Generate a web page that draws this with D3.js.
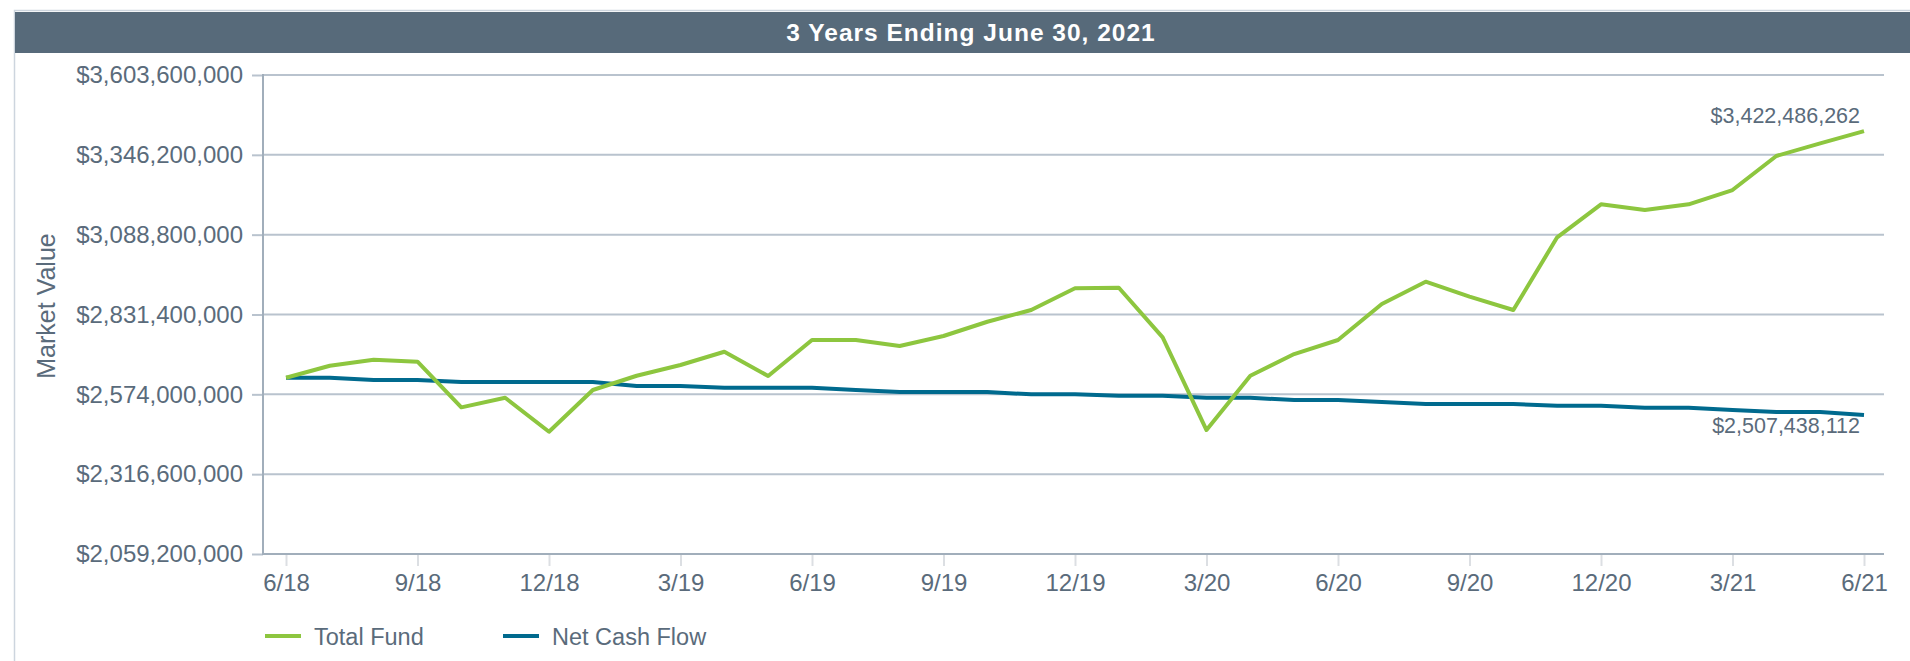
<!DOCTYPE html>
<html>
<head>
<meta charset="utf-8">
<script src="https://cdn.jsdelivr.net/npm/d3@7"></script>
<style>
  body { margin: 0; background: #fff; }
  svg text { font-family: "Liberation Sans", Arial, sans-serif; }
</style>
</head>
<body>
<div class="chart"></div>
<script>
// monthly points, 6/18 .. 6/21
const months = ["6/18","7/18","8/18","9/18","10/18","11/18","12/18","1/19","2/19","3/19","4/19","5/19",
    "6/19","7/19","8/19","9/19","10/19","11/19","12/19","1/20","2/20","3/20","4/20","5/20",
    "6/20","7/20","8/20","9/20","10/20","11/20","12/20","1/21","2/21","3/21","4/21","5/21","6/21"];

// values in $ millions
const totalFund = [2627.5, 2666.2, 2685.6, 2679.1, 2532.1, 2563.0, 2453.4, 2587.9, 2634.0, 2668.5, 2711.4, 2633.0,
    2749.1, 2749.1, 2729.7, 2762.0, 2808.1, 2845.8, 2915.8, 2917.7, 2757.8, 2458.9, 2634.0, 2703.9,
    2749.1, 2865.2, 2937.1, 2889.3, 2845.8, 3080.2, 3186.6, 3168.3, 3186.6, 3232.7, 3342.4, 3383.3, 3422.486262];

const netCashFlow = [2627.5, 2627.5, 2620.1, 2620.1, 2613.7, 2613.7, 2613.7, 2613.7, 2600.8, 2600.8, 2595.3, 2595.3,
    2595.3, 2587.9, 2581.4, 2581.4, 2581.4, 2574.0, 2574.0, 2569.5, 2569.5, 2563.0, 2563.0, 2555.6,
    2555.6, 2549.2, 2542.7, 2542.7, 2542.7, 2537.2, 2537.2, 2530.8, 2530.8, 2523.4, 2516.9, 2516.9, 2507.438112];

const xTickLabels = ["6/18","9/18","12/18","3/19","6/19","9/19","12/19","3/20","6/20","9/20","12/20","3/21","6/21"];
const yTicks = [2059.2, 2316.6, 2574.0, 2831.4, 3088.8, 3346.2, 3603.6];

const seriesNames = ["Total Fund", "Net Cash Flow"];
const seriesColors = ["#8dc63f", "#006a8e"];

const d3 = window.d3;
const W = 1910, H = 661;
const textColor = "#5a6b7b";
const gridColor = "#b9c3ce";
const axisColor = "#a1aebb";

let svg = d3.select(".chart").append("svg")
    .attr("width", W)
    .attr("height", H);

// outer frame + header
svg.append("path")
    .attr("d", "M14.5," + H + "V10.5H" + W)
    .attr("fill", "none")
    .attr("stroke", "#cdd5de")
    .attr("stroke-width", 1.5);

svg.append("rect")
    .attr("x", 15).attr("y", 12)
    .attr("width", W - 15).attr("height", 41)
    .attr("fill", "#576a7a");

svg.append("text")
    .attr("x", 971).attr("y", 40.5)
    .attr("text-anchor", "middle")
    .attr("fill", "#fff")
    .attr("font-weight", "bold")
    .attr("font-size", 24.5)
    .attr("letter-spacing", 1)
    .text("3 Years Ending June 30, 2021");

let plot = {left: 263, right: 1884, top: 75, bottom: 554};

let x = d3.scalePoint()
    .domain(months)
    .range([286, 1864]);

let y = d3.scaleLinear()
    .domain([yTicks[0], yTicks[yTicks.length - 1]])
    .range([plot.bottom, plot.top]);

// gridlines
svg.append("g")
    .selectAll("line")
    .data(yTicks.slice(1))
    .enter().append("line")
    .attr("x1", plot.left).attr("x2", plot.right)
    .attr("y1", d => y(d)).attr("y2", d => y(d))
    .attr("stroke", gridColor)
    .attr("stroke-width", 2);

// y axis
let yAxis = d3.axisLeft(y)
    .tickValues(yTicks)
    .tickSize(11)
    .tickPadding(9)
    .tickFormat(d => "$" + d3.format(",")(Math.round(d * 1e6)));

svg.append("g")
    .attr("transform", "translate(" + plot.left + ",0)")
    .call(yAxis)
    .call(g => g.select(".domain").remove())
    .call(g => g.selectAll(".tick line").attr("stroke", gridColor).attr("stroke-width", 2))
    .call(g => g.selectAll(".tick text")
        .attr("fill", textColor)
        .attr("font-size", 24)
        .attr("font-family", "Liberation Sans, Arial, sans-serif"));

// x axis
let xAxis = d3.axisBottom(x)
    .tickValues(xTickLabels)
    .tickSize(12)
    .tickPadding(8);

svg.append("g")
    .attr("transform", "translate(0," + plot.bottom + ")")
    .call(xAxis)
    .call(g => g.select(".domain").remove())
    .call(g => g.selectAll(".tick line").attr("stroke", "#dcdfe3").attr("stroke-width", 2))
    .call(g => g.selectAll(".tick text")
        .attr("fill", textColor)
        .attr("font-size", 24)
        .attr("font-family", "Liberation Sans, Arial, sans-serif"));

// frame lines
svg.append("line")
    .attr("x1", plot.left).attr("x2", plot.left)
    .attr("y1", plot.top - 1).attr("y2", plot.bottom + 1)
    .attr("stroke", axisColor).attr("stroke-width", 2);
svg.append("line")
    .attr("x1", plot.left).attr("x2", plot.right)
    .attr("y1", plot.bottom).attr("y2", plot.bottom)
    .attr("stroke", axisColor).attr("stroke-width", 2);

// axis title
svg.append("text")
    .attr("transform", "translate(46,306) rotate(-90)")
    .attr("text-anchor", "middle")
    .attr("dominant-baseline", "central")
    .attr("fill", textColor)
    .attr("font-size", 25)
    .text("Market Value");

// lines
let line = d3.line()
    .x((d, i) => x(months[i]))
    .y(d => y(d));

[netCashFlow, totalFund].forEach((data, k) => {
    let idx = k === 0 ? 1 : 0;
    svg.append("path")
        .datum(data)
        .attr("fill", "none")
        .attr("stroke", seriesColors[idx])
        .attr("stroke-width", 4)
        .attr("stroke-linejoin", "round")
        .attr("d", line);
});

// end labels
let last = months.length - 1;
svg.append("text")
    .attr("x", x(months[last]) - 4)
    .attr("y", y(totalFund[last]) - 8)
    .attr("text-anchor", "end")
    .attr("fill", textColor)
    .attr("font-size", 21.5)
    .text("$" + d3.format(",")(Math.round(totalFund[last] * 1e6)));

svg.append("text")
    .attr("x", x(months[last]) - 4)
    .attr("y", y(netCashFlow[last]) + 18)
    .attr("text-anchor", "end")
    .attr("fill", textColor)
    .attr("font-size", 21.5)
    .text("$" + d3.format(",")(Math.round(netCashFlow[last] * 1e6)));

// legend
let legendX = [265, 503];
let legend = svg.append("g")
    .selectAll("g")
    .data(seriesNames)
    .enter().append("g")
    .attr("transform", (d, i) => "translate(" + legendX[i] + ",636)");

legend.append("line")
    .attr("x1", 0).attr("x2", 36)
    .attr("stroke", (d, i) => seriesColors[i])
    .attr("stroke-width", 4);

legend.append("text")
    .attr("x", 49)
    .attr("y", 9)
    .attr("fill", textColor)
    .attr("font-size", 23.5)
    .text(d => d);
</script>
</body>
</html>
